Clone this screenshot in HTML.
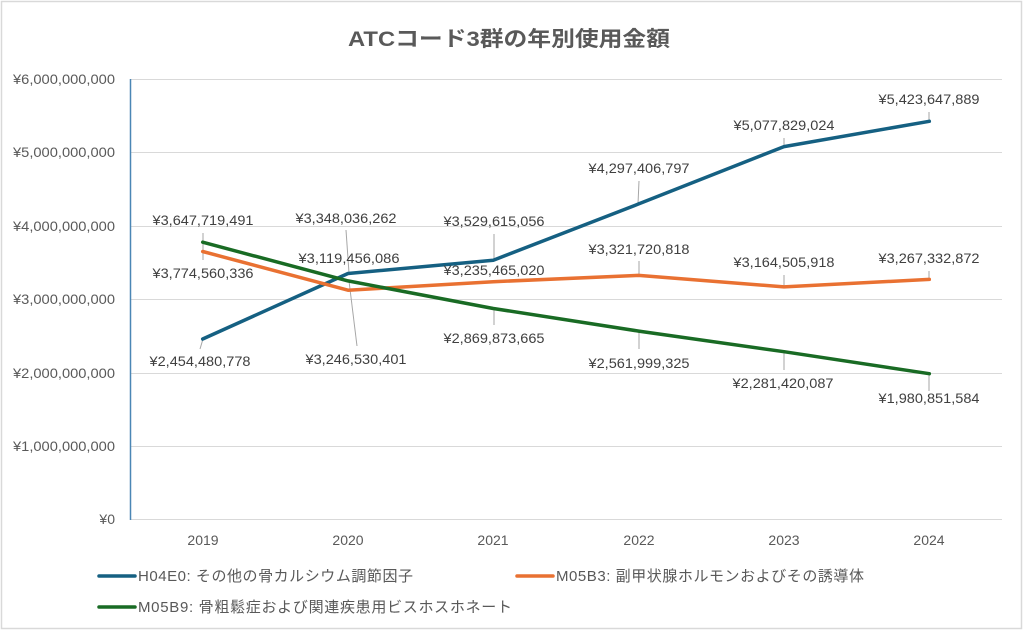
<!DOCTYPE html>
<html><head><meta charset="utf-8"><style>
html,body{margin:0;padding:0;background:#fff;}
svg{display:block;}
text{font-family:"Liberation Sans","Noto Sans CJK JP",sans-serif;}
</style></head><body>
<svg width="1024" height="631" viewBox="0 0 1024 631" xmlns="http://www.w3.org/2000/svg">
<rect x="0" y="0" width="1024" height="631" fill="#fff"/>
<rect x="1.5" y="1.5" width="1020" height="627" fill="#fff" stroke="#d9d9d9" stroke-width="1.5"/>
<text x="509" y="46" text-anchor="middle" font-size="21" font-weight="bold" fill="#595959" textLength="322" lengthAdjust="spacingAndGlyphs">ATCコード3群の年別使用金額</text>
<g stroke="#d9d9d9" stroke-width="1">
<line x1="130" y1="79.5" x2="1002" y2="79.5"/>
<line x1="130" y1="152.5" x2="1002" y2="152.5"/>
<line x1="130" y1="226.5" x2="1002" y2="226.5"/>
<line x1="130" y1="299.5" x2="1002" y2="299.5"/>
<line x1="130" y1="373.5" x2="1002" y2="373.5"/>
<line x1="130" y1="446.5" x2="1002" y2="446.5"/>
<line x1="130" y1="519.5" x2="1002" y2="519.5"/>
</g>
<line x1="130.5" y1="79" x2="130.5" y2="520" stroke="#4a86b5" stroke-width="1.5"/>
<g font-size="14" fill="#595959" text-anchor="end">
<text x="115" y="84" textLength="102" lengthAdjust="spacingAndGlyphs">¥6,000,000,000</text>
<text x="115" y="157" textLength="102" lengthAdjust="spacingAndGlyphs">¥5,000,000,000</text>
<text x="115" y="231" textLength="102" lengthAdjust="spacingAndGlyphs">¥4,000,000,000</text>
<text x="115" y="304" textLength="102" lengthAdjust="spacingAndGlyphs">¥3,000,000,000</text>
<text x="115" y="378" textLength="102" lengthAdjust="spacingAndGlyphs">¥2,000,000,000</text>
<text x="115" y="451" textLength="102" lengthAdjust="spacingAndGlyphs">¥1,000,000,000</text>
<text x="115" y="524">¥0</text>
</g>
<g font-size="14" fill="#595959" text-anchor="middle">
<text x="203" y="545">2019</text>
<text x="348" y="545">2020</text>
<text x="493" y="545">2021</text>
<text x="639" y="545">2022</text>
<text x="784" y="545">2023</text>
<text x="929" y="545">2024</text>
</g>
<!-- leader lines -->
<g stroke="#a6a6a6" stroke-width="1">
<line x1="203" y1="233" x2="203" y2="260"/>
<line x1="203" y1="339" x2="200" y2="349"/>
<line x1="346" y1="230" x2="349" y2="273"/>
<line x1="349" y1="281" x2="357" y2="346"/>
<line x1="494" y1="234" x2="494" y2="260"/>
<line x1="494" y1="309" x2="494" y2="325"/>
<line x1="639" y1="181" x2="638" y2="204"/>
<line x1="639" y1="261" x2="639" y2="275"/>
<line x1="639" y1="331" x2="639" y2="349"/>
<line x1="784" y1="138" x2="784" y2="147"/>
<line x1="784" y1="275" x2="784" y2="287"/>
<line x1="784" y1="352" x2="784" y2="370"/>
<line x1="929" y1="112" x2="929" y2="121"/>
<line x1="929" y1="271" x2="929" y2="279"/>
<line x1="929" y1="375" x2="929" y2="391"/>
</g>
<!-- series -->
<g fill="none" stroke-width="3.5" stroke-linejoin="round" stroke-linecap="round">
<polyline stroke="#156082" points="202.7,339 348,273.5 493.3,260.2 638.7,203.9 784,146.6 929.3,121.3"/>
<polyline stroke="#E97132" points="202.7,251.5 348,290.2 493.3,281.7 638.7,275.4 784,286.9 929.3,279.4"/>
<polyline stroke="#196B24" points="202.7,242.2 348,280.9 493.3,308.5 638.7,331.1 784,351.7 929.3,373.7"/>
</g>
<!-- data labels -->
<g font-size="14" fill="#404040" text-anchor="middle">
<text x="203" y="225" textLength="101" lengthAdjust="spacingAndGlyphs">¥3,647,719,491</text>
<text x="203" y="278" textLength="101" lengthAdjust="spacingAndGlyphs">¥3,774,560,336</text>
<text x="200" y="366" textLength="101" lengthAdjust="spacingAndGlyphs">¥2,454,480,778</text>
<text x="346" y="223" textLength="101" lengthAdjust="spacingAndGlyphs">¥3,348,036,262</text>
<text x="349" y="263" textLength="101" lengthAdjust="spacingAndGlyphs">¥3,119,456,086</text>
<text x="356" y="364" textLength="101" lengthAdjust="spacingAndGlyphs">¥3,246,530,401</text>
<text x="494" y="226" textLength="101" lengthAdjust="spacingAndGlyphs">¥3,529,615,056</text>
<text x="494" y="275" textLength="101" lengthAdjust="spacingAndGlyphs">¥3,235,465,020</text>
<text x="494" y="343" textLength="101" lengthAdjust="spacingAndGlyphs">¥2,869,873,665</text>
<text x="639" y="173" textLength="101" lengthAdjust="spacingAndGlyphs">¥4,297,406,797</text>
<text x="639" y="254" textLength="101" lengthAdjust="spacingAndGlyphs">¥3,321,720,818</text>
<text x="639" y="368" textLength="101" lengthAdjust="spacingAndGlyphs">¥2,561,999,325</text>
<text x="784" y="130" textLength="101" lengthAdjust="spacingAndGlyphs">¥5,077,829,024</text>
<text x="784" y="267" textLength="101" lengthAdjust="spacingAndGlyphs">¥3,164,505,918</text>
<text x="783" y="388" textLength="101" lengthAdjust="spacingAndGlyphs">¥2,281,420,087</text>
<text x="929" y="104" textLength="101" lengthAdjust="spacingAndGlyphs">¥5,423,647,889</text>
<text x="929" y="263" textLength="101" lengthAdjust="spacingAndGlyphs">¥3,267,332,872</text>
<text x="929" y="403" textLength="101" lengthAdjust="spacingAndGlyphs">¥1,980,851,584</text>
</g>
<!-- legend -->
<g stroke-width="3.5" stroke-linecap="round">
<line x1="99" y1="576" x2="135" y2="576" stroke="#156082"/>
<line x1="517" y1="576" x2="553" y2="576" stroke="#E97132"/>
<line x1="99" y1="607" x2="135" y2="607" stroke="#196B24"/>
</g>
<g font-size="15" fill="#595959">
<text x="138" y="581" textLength="275" lengthAdjust="spacing">H04E0: その他の骨カルシウム調節因子</text>
<text x="556" y="581" textLength="308" lengthAdjust="spacing">M05B3: 副甲状腺ホルモンおよびその誘導体</text>
<text x="138" y="612" textLength="374" lengthAdjust="spacing">M05B9: 骨粗鬆症および関連疾患用ビスホスホネート</text>
</g>
</svg>
</body></html>
